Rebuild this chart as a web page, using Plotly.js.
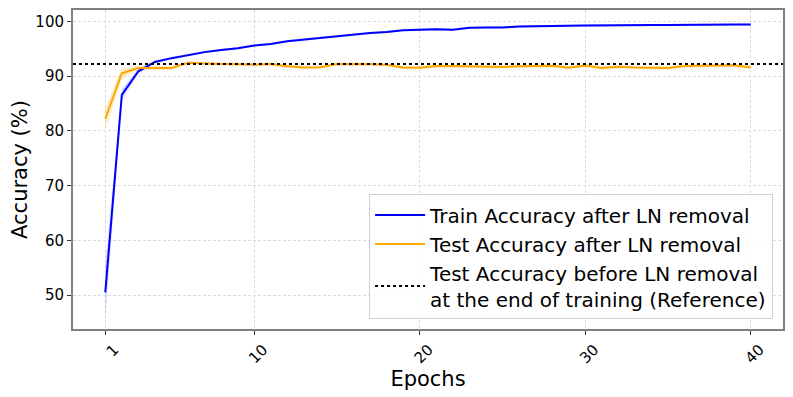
<!DOCTYPE html>
<html>
<head>
<meta charset="utf-8">
<script src="https://cdn.plot.ly/plotly-3.0.1.min.js"></script>
<style>
  html, body { margin: 0; padding: 0; background: #fff; }
  #chart { width: 793px; height: 397px; }
</style>
</head>
<body>
<div id="chart"></div>
<script>
// epochs 1..40
const epochs = [1, 2, 3, 4, 5, 6, 7, 8, 9, 10, 11, 12, 13, 14, 15, 16, 17, 18, 19, 20,
                21, 22, 23, 24, 25, 26, 27, 28, 29, 30, 31, 32, 33, 34, 35, 36, 37, 38, 39, 40];

const trainAcc = [50.5, 86.6, 90.9, 92.6, 93.3, 93.9, 94.4, 94.8, 95.1, 95.6,
                  95.9, 96.4, 96.7, 97.1, 97.4, 97.6, 97.9, 98.1, 98.4, 98.5,
                  98.6, 98.5, 98.85, 98.9, 98.9, 99.1, 99.1, 99.2, 99.2, 99.25,
                  99.3, 99.3, 99.35, 99.35, 99.35, 99.4, 99.4, 99.4, 99.45, 99.45];
const trainStd = [5.0, 1.0, 0.5, 0.3, 0.2, 0.2, 0.2, 0.2, 0.2, 0.2,
                  0.2, 0.2, 0.2, 0.2, 0.2, 0.2, 0.2, 0.2, 0.2, 0.2,
                  0.2, 0.2, 0.2, 0.2, 0.2, 0.2, 0.2, 0.2, 0.2, 0.2,
                  0.2, 0.2, 0.2, 0.2, 0.2, 0.2, 0.2, 0.2, 0.2, 0.2];

const testAcc = [82.2, 90.55, 91.5, 91.5, 91.5, 92.45, 92.3, 92.25, 92.2, 92.1,
                 92.25, 91.8, 91.6, 91.65, 92.25, 92.25, 92.2, 92.1, 91.6, 91.55,
                 91.85, 91.85, 91.8, 91.7, 91.7, 91.8, 91.85, 91.9, 91.55, 91.95,
                 91.5, 91.75, 91.6, 91.5, 91.5, 91.85, 91.9, 91.9, 92.0, 91.6];
const testStd = [2.0, 1.0, 0.4, 0.3, 0.3, 0.3, 0.3, 0.3, 0.3, 0.3,
                 0.3, 0.3, 0.3, 0.3, 0.3, 0.3, 0.3, 0.3, 0.3, 0.3,
                 0.3, 0.3, 0.3, 0.3, 0.3, 0.3, 0.3, 0.3, 0.3, 0.3,
                 0.3, 0.3, 0.3, 0.3, 0.3, 0.3, 0.3, 0.3, 0.3, 0.3];

const refAcc = 92.25;

const xTicks = [1, 10, 20, 30, 40];
const yTicks = [50, 60, 70, 80, 90, 100];

const FONT = 'DejaVu Sans, sans-serif';

function band(mean, std, color) {
  const upper = mean.map((m, i) => m + std[i]);
  const lower = mean.map((m, i) => m - std[i]);
  return [
    { x: epochs, y: lower, mode: 'lines', line: { width: 0 }, showlegend: false, hoverinfo: 'skip' },
    { x: epochs, y: upper, mode: 'lines', line: { width: 0 }, fill: 'tonexty',
      fillcolor: color, showlegend: false, hoverinfo: 'skip' },
  ];
}

const traces = [
  ...band(trainAcc, trainStd, 'rgba(0,0,255,0.15)'),
  ...band(testAcc, testStd, 'rgba(255,165,0,0.2)'),
  {
    name: 'Train Accuracy after LN removal', legendgroup: 'a',
    x: epochs, y: trainAcc, mode: 'lines',
    line: { color: '#0000ff', width: 2 },
  },
  {
    name: 'Test Accuracy after LN removal', legendgroup: 'b',
    x: epochs, y: testAcc, mode: 'lines',
    line: { color: '#ffa500', width: 2 },
  },
];

const axisCommon = {
  showline: true, mirror: true, linecolor: '#808080', linewidth: 2,
  ticks: 'outside', ticklen: 4, tickwidth: 1, tickcolor: '#333',
  showgrid: true, gridcolor: '#dcdcdc', gridwidth: 1, griddash: '3px,2px',
  zeroline: false,
  tickfont: { family: FONT, size: 15, color: '#000' },
};

const layout = {
  width: 793, height: 397,
  margin: { l: 73, r: 10, t: 10, b: 68 },
  paper_bgcolor: '#fff', plot_bgcolor: '#fff',
  font: { family: FONT, color: '#000' },
  xaxis: {
    ...axisCommon,
    range: [-0.95, 41.95],
    tickvals: xTicks,
    ticktext: xTicks.map(String),
    tickangle: -45,
    ticklabelshift: 9,
    title: { text: 'Epochs', font: { family: FONT, size: 21 }, standoff: 0 },
  },
  yaxis: {
    ...axisCommon,
    range: [43.8, 102.1],
    tickvals: yTicks,
    title: { text: 'Accuracy (%)', font: { family: FONT, size: 21 }, standoff: 2 },
  },
  legend: {
    x: 0.986, y: 0.03, xanchor: 'right', yanchor: 'bottom',
    traceorder: 'grouped', tracegroupgap: 0, itemwidth: 50,
    bgcolor: 'rgba(255,255,255,0.85)', bordercolor: '#d0d0d0', borderwidth: 1,
    font: { family: FONT, size: 20, color: '#000' },
  },
  shapes: [
    {
      type: 'line', xref: 'paper', x0: 0, x1: 1, yref: 'y', y0: refAcc, y1: refAcc,
      line: { color: '#000', width: 2, dash: 'dot' },
      showlegend: true, legendgroup: 'c',
      name: 'Test Accuracy before LN removal<br>at the end of training (Reference)',
    },
  ],
  showlegend: true,
};

Plotly.newPlot('chart', traces, layout, { displayModeBar: false, staticPlot: true });
</script>
</body>
</html>
